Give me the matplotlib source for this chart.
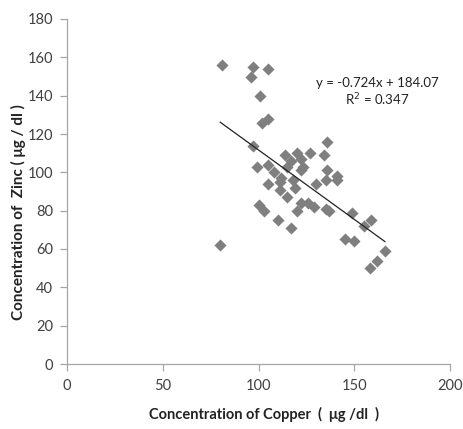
import matplotlib
matplotlib.use("Agg")
import matplotlib.pyplot as plt
import numpy as np

copper = [81, 97, 96, 105, 101, 105, 102, 97, 99, 105, 108, 105, 100, 103, 110, 117, 80,
          111, 115, 114, 115, 112, 111, 118, 119, 120, 122, 122, 127, 123, 120, 122, 126,
          129, 130, 134, 136, 136, 135, 135, 141, 141, 145, 149, 150, 155, 159, 158, 162,
          166, 137, 117]
zinc = [156, 155, 150, 154, 140, 128, 126, 114, 103, 104, 100, 94, 83, 80, 75, 71, 62,
        91, 87, 109, 103, 97, 95, 96, 92, 110, 107, 101, 110, 103, 80, 84, 84,
        82, 94, 109, 116, 101, 96, 81, 98, 96, 65, 79, 64, 72, 75, 50, 54,
        59, 80, 106]

slope = -0.724
intercept = 184.07
eq_text = "y = -0.724x + 184.07"
r2_text = "R$^2$ = 0.347"

x_ticks = [0, 50, 100, 150, 200]
y_ticks = [0, 20, 40, 60, 80, 100, 120, 140, 160, 180]

plt.rcParams['font.family'] = ['Lato', 'DejaVu Sans']

fig = plt.figure(figsize=(4.63, 4.29), dpi=100)
ax = fig.add_axes([67/463, 1-364/429, (450-67)/463, (364-19)/429])

ax.scatter(copper, zinc, marker='D', s=38, color='#7f7f7f', linewidths=0, zorder=3)

xl = np.array([min(copper), max(copper)])
ax.plot(xl, slope*xl + intercept, color='#222222', lw=0.9, zorder=4)

ax.text(162, 146.6, eq_text, ha='center', va='center', fontsize=9.5, color='#222222')
ax.text(162, 137.7, r2_text, ha='center', va='center', fontsize=9.5, color='#222222')

ax.set_xlim(0, 200)
ax.set_ylim(0, 180)
ax.set_xticks(x_ticks)
ax.set_yticks(y_ticks)
for s in ['top', 'right']:
    ax.spines[s].set_visible(False)
for s in ['left', 'bottom']:
    ax.spines[s].set_color('#a6a6a6')
    ax.spines[s].set_linewidth(0.9)
ax.tick_params(axis='both', direction='out', length=5, width=0.9, color='#a6a6a6',
               labelsize=10.5, labelcolor='#404040')
ax.tick_params(axis='x', pad=6)
ax.tick_params(axis='y', pad=5)

ax.set_xlabel("Concentration of Copper  (  μg /dl  )", fontsize=10.5, fontweight='bold',
              color='#222222')
ax.set_ylabel("Concentration of  Zinc ( μg / dl )", fontsize=11, fontweight='bold',
              color='#222222')
ax.xaxis.set_label_coords(0.514, -0.124)
ax.yaxis.set_label_coords(-0.106, 0.44)

fig.savefig("out.png", dpi=100)
